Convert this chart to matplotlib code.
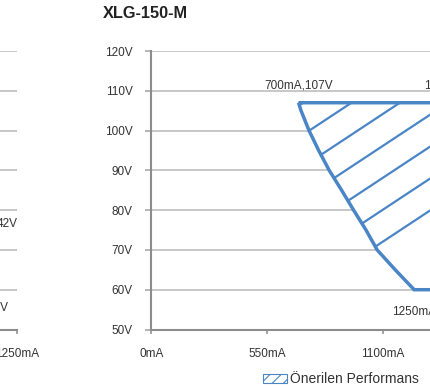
import numpy as np
import matplotlib
matplotlib.use("Agg")
import matplotlib.pyplot as plt
from matplotlib.patches import Polygon, Patch
from matplotlib.lines import Line2D

plt.rcParams['font.family'] = ['Liberation Sans', 'DejaVu Sans']

# ---- data ----
title = "XLG-150-M"
y_ticks = [50, 60, 70, 80, 90, 100, 110, 120]
y_labels = ["50V", "60V", "70V", "80V", "90V", "100V", "110V", "120V"]
x_ticks = [0, 550, 1100, 1650]
x_labels = ["0mA", "550mA", "1100mA", "1650mA"]

# left boundary curve of the recommended region (current mA, voltage V)
curve_current = [700, 712, 750, 796, 846, 905, 962, 1021, 1074, 1160, 1250]
curve_voltage = [107, 105, 100, 95, 90, 85, 80, 75, 70, 65, 60]
max_current = 1400
top_voltage = 107
bottom_voltage = 60

label_texts = ["700mA,107V", "1400mA,107V", "1250mA,60V"]
legend_label = "Önerilen Performans"

# neighbouring (cropped) chart on the left
left_x_ticks = [1250]
left_x_labels = ["1250mA"]
left_point_labels = ["42V", "30V"]

BLUE = "#4a85c6"
GRID = "#bdbdbd"
SPINE = "#8c8c8c"
TXT = "#333333"

W, H = 430, 390
fig = plt.figure(figsize=(W / 100, H / 100), dpi=100)

ax_left_px, ax_w_px = 151.3, 347.0
ax_bot_px, ax_top_px = 329.5, 51.0
axpos = [ax_left_px / W, (H - ax_bot_px) / H, ax_w_px / W, (ax_bot_px - ax_top_px) / H]

def style_axes(a):
    a.set_facecolor("none")
    for s in ["top", "right"]:
        a.spines[s].set_visible(False)
    for s in ["left", "bottom"]:
        a.spines[s].set_color(SPINE)
        a.spines[s].set_linewidth(1.5)
    a.grid(axis="y", color=GRID, lw=1.2)
    a.grid(axis="x", visible=False)
    a.set_axisbelow(True)

# ---- main chart ----
ax = fig.add_axes(axpos)
style_axes(ax)
ax.set_xlim(0, 1650)
ax.set_ylim(50, 120)
ax.set_yticks(y_ticks)
ax.set_yticklabels(y_labels)
ax.set_xticks(x_ticks)
ax.set_xticklabels(x_labels)
ax.tick_params(axis="y", length=4.5, width=1.1, color="#a0a0a0", pad=9, labelsize=8.5, labelcolor=TXT)
ax.tick_params(axis="x", length=3, width=1.1, color=SPINE, pad=10, labelsize=8.5, labelcolor=TXT)

verts = list(zip(curve_current, curve_voltage)) + [(max_current, bottom_voltage), (max_current, top_voltage)]
poly = Polygon(verts, closed=True, facecolor="white", edgecolor="none", zorder=3)
ax.add_patch(poly)

# diagonal hatch pattern inside the region (decoration)
px_per_mA = ax_w_px / 1650
px_per_V = (ax_bot_px - ax_top_px) / 70
slope = 0.66 * px_per_mA / px_per_V
for c in np.arange(952 - 230 * 4, 2200, 230):
    xs = np.array([0, 2400])
    ys = top_voltage + slope * (xs - c)
    ln = Line2D(xs, ys, color=BLUE, lw=1.6, zorder=4, solid_capstyle="butt")
    ax.add_line(ln)
    ln.set_clip_path(poly)
poly2 = Polygon(verts, closed=True, facecolor="none", edgecolor=BLUE, lw=2.5, joinstyle="miter", zorder=5)
ax.add_patch(poly2)

ax.text(curve_current[0], 111.4, label_texts[0], ha="center", va="center", fontsize=8.5, color=TXT, zorder=6)
ax.text(1296, 111.4, label_texts[1], ha="left", va="center", fontsize=8.5, color=TXT, zorder=6)
ax.text(1144, 54.4, label_texts[2], ha="left", va="center", fontsize=8.5, color=TXT, zorder=6)

# ---- cropped chart on the left ----
lright_px = 17.0
axl = fig.add_axes([(lright_px - ax_w_px) / W, axpos[1], ax_w_px / W, axpos[3]])
style_axes(axl)
axl.spines["left"].set_visible(False)
axl.set_xlim(0, 1250)
axl.set_ylim(50, 120)
axl.set_yticks(y_ticks[1:])
axl.tick_params(axis="y", length=0, labelleft=False)
axl.set_xticks(left_x_ticks)
axl.set_xticklabels(left_x_labels)
axl.tick_params(axis="x", length=3, width=1.1, color=SPINE, pad=10, labelsize=8.5, labelcolor=TXT)
axl.text(1.003, 0.378, left_point_labels[0], transform=axl.transAxes, ha="right", va="center", fontsize=8.5, color=TXT)
axl.text(0.976, 0.078, left_point_labels[1], transform=axl.transAxes, ha="right", va="center", fontsize=8.5, color=TXT)

# ---- title ----
fig.text(103 / W, 1 - 13 / H, title, ha="left", va="center", fontsize=11.8, fontweight="bold", color="#222222")

# ---- legend ----
plt.rcParams['hatch.linewidth'] = 0.8
handle = Patch(facecolor="white", edgecolor=BLUE, hatch="///", lw=0.8, label=legend_label)
fig.legend(handles=[handle], loc="center left", bbox_to_anchor=(263 / W, 1 - 379 / H),
           frameon=False, borderpad=0, borderaxespad=0, handlelength=1.75, handleheight=0.6,
           handletextpad=0.2, fontsize=10, labelcolor=TXT)

fig.savefig("out.png", dpi=100)
